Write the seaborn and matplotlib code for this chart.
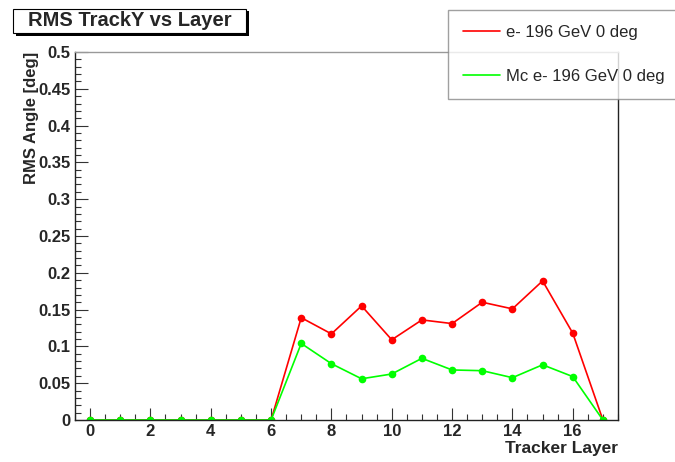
import numpy as np
import pandas as pd
import matplotlib
matplotlib.use("Agg")
import matplotlib.pyplot as plt
from matplotlib.patches import Rectangle
from matplotlib.ticker import MultipleLocator
import seaborn as sns

# data
layers = list(range(18))
rms_data = [0, 0, 0, 0, 0, 0, 0, 0.139, 0.117, 0.155, 0.109, 0.136,
            0.131, 0.160, 0.151, 0.189, 0.118, 0]
rms_mc = [0, 0, 0, 0, 0, 0, 0, 0.104, 0.0765, 0.056, 0.0625, 0.0838,
          0.068, 0.067, 0.0575, 0.075, 0.059, 0]
label_data = "e- 196 GeV 0 deg"
label_mc = "Mc e- 196 GeV 0 deg"
ytick_labels = ["0", "0.05", "0.1", "0.15", "0.2", "0.25", "0.3",
                "0.35", "0.4", "0.45", "0.5"]

df = pd.DataFrame({"layer": layers, "data": rms_data, "mc": rms_mc})

sns.set_style("ticks")
plt.rcParams["font.family"] = ["Liberation Sans", "DejaVu Sans"]

fig = plt.figure(figsize=(6.75, 4.62), dpi=100)
ax = fig.add_axes([75 / 675, 1 - 420 / 462, (618 - 75) / 675, (420 - 52) / 462])

sns.lineplot(data=df, x="layer", y="data", ax=ax, color="#ff0000", marker="o",
             markersize=5.5, markeredgewidth=0, linewidth=1.2, label=label_data)
sns.lineplot(data=df, x="layer", y="mc", ax=ax, color="#00ff00", marker="o",
             markersize=5.5, markeredgewidth=0, linewidth=1.2, label=label_mc)

ax.set_xlim(-0.5, 17.5)
ax.set_ylim(0, 0.5)
ax.xaxis.set_major_locator(MultipleLocator(2))
ax.xaxis.set_minor_locator(MultipleLocator(0.5))
ax.yaxis.set_minor_locator(MultipleLocator(0.01))
ax.set_yticks(np.arange(0, 0.501, 0.05))
ax.set_yticklabels(ytick_labels)

ax.tick_params(axis="both", which="major", direction="in", length=9,
               width=0.8, labelsize=12, color="#333333")
ax.tick_params(axis="both", which="minor", direction="in", length=4.5,
               width=0.8, color="#333333")
ax.tick_params(axis="y", pad=3)
ax.tick_params(axis="x", pad=3)
for lab in ax.get_xticklabels() + ax.get_yticklabels():
    lab.set_fontweight("bold")

for side in ["left", "bottom", "right"]:
    ax.spines[side].set_color("#222222")
    ax.spines[side].set_linewidth(1.0)
ax.spines["top"].set_color("#999999")
ax.spines["top"].set_linewidth(1.0)

ax.set_xlabel("Tracker Layer", fontsize=12.5, fontweight="bold", loc="right",
              labelpad=1)
ax.set_ylabel("RMS Angle [deg]", fontsize=12, fontweight="bold", loc="top",
              labelpad=0)

ax.get_legend().remove()
handles, labels = ax.get_legend_handles_labels()
leg = fig.legend(handles, labels, loc="upper left",
                 bbox_to_anchor=(448 / 675, 1 - 10 / 462),
                 fontsize=12, frameon=True, fancybox=False,
                 edgecolor="#888888", handlelength=2.2, handletextpad=0.4,
                 labelspacing=1.74, borderpad=0.9, borderaxespad=0)
leg.get_frame().set_linewidth(1.0)
for h in leg.get_lines():
    h.set_marker("")
    h.set_linewidth(1.2)

# title box with shadow, ROOT style
fig.patches.append(Rectangle((16 / 675, 1 - 36 / 462), 233 / 675, 25 / 462,
                             transform=fig.transFigure, facecolor="black",
                             edgecolor="none", zorder=1))
fig.patches.append(Rectangle((13 / 675, 1 - 33 / 462), 233 / 675, 24 / 462,
                             transform=fig.transFigure, facecolor="white",
                             edgecolor="black", linewidth=0.8, zorder=2))
fig.text(130 / 675, 1 - 21 / 462, "RMS TrackY vs Layer", fontsize=14.5,
         fontweight="bold", ha="center", va="center", zorder=3)

fig.savefig("out.png", dpi=100)
